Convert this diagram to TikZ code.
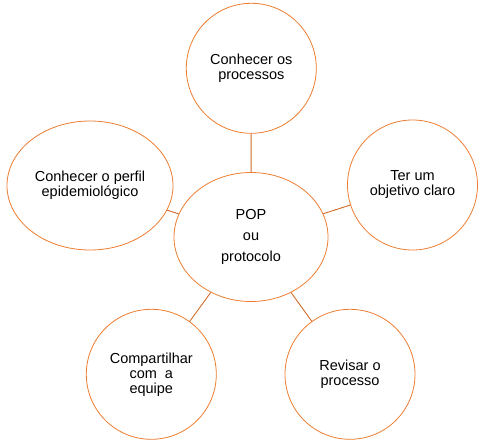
\documentclass[tikz,border=0pt]{standalone}
\usepackage{fontspec}
\setmainfont{Liberation Sans}
\usetikzlibrary{shapes.geometric}
\definecolor{accent}{HTML}{ED7D31}
\definecolor{linkcol}{HTML}{D06A25}
\tikzset{
  bubble/.style={ellipse, draw=accent, line width=0.8pt, inner sep=0pt, align=center,
    font=\fontsize{14.5}{15}\selectfont, text=black},
  circ/.style={bubble, minimum width=130pt, minimum height=130pt},
  link/.style={draw=linkcol, line width=0.9pt}
}
\begin{document}
\begin{tikzpicture}[x=1pt,y=-1pt]
\useasboundingbox (0,0) rectangle (490,445);
\node[bubble, minimum width=154pt, minimum height=129pt,
  font=\fontsize{14.5}{21}\selectfont] (c) at (251,237) {POP\\ou\\protocolo};
\node[circ] (top) at (251.3,68.3) {Conhecer os\\processos};
\node[bubble, minimum width=166pt, minimum height=129pt] (left) at (90,185.5) {Conhecer o perfil\\epidemiológico};
\node[circ] (right) at (412.5,185) {Ter um\\objetivo claro};
\node[circ] (bl) at (151.3,374.3) {Compartilhar\\com\ \ a\\equipe};
\node[circ] (br) at (350,374.3) {Revisar o\\processo};
\draw[link] (c) -- (top);
\draw[link] (c) -- (left);
\draw[link] (c) -- (right);
\draw[link] (c) -- (bl);
\draw[link] (c) -- (br);
\end{tikzpicture}
\end{document}
